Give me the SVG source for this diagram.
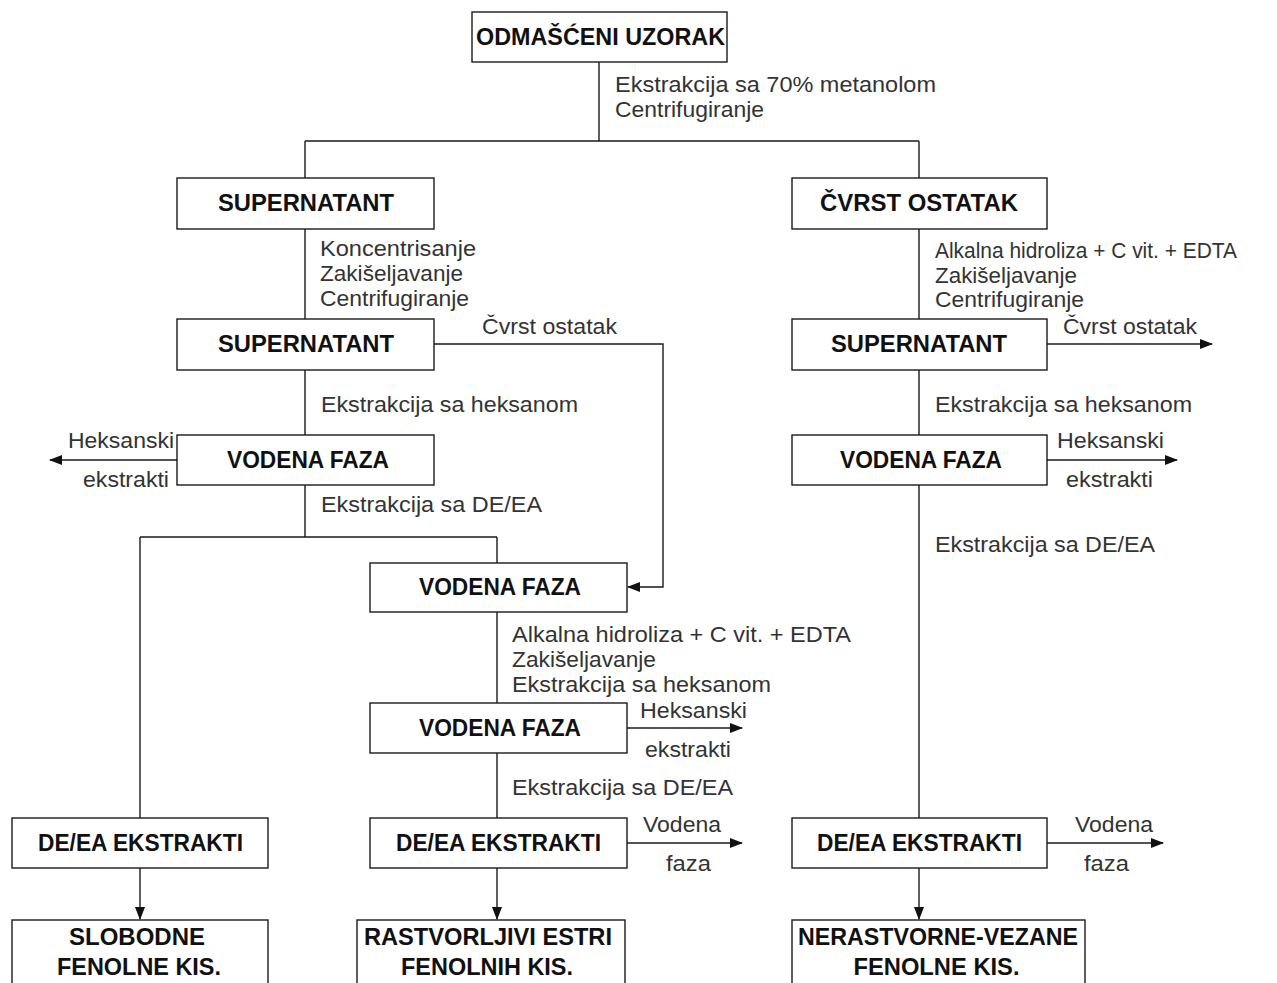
<svg xmlns="http://www.w3.org/2000/svg" width="1277" height="983" viewBox="0 0 1277 983">
  <style>
    .box { fill: #ffffff; stroke: #1a1a1a; stroke-width: 1.4; }
    .title { font-family: "Liberation Sans", Arial, sans-serif; font-weight: bold; font-size: 23px; fill: #111; text-anchor: middle; }
    .note { font-family: "Liberation Sans", Arial, sans-serif; font-size: 21.5px; fill: #333; }
    .wire { fill: none; stroke: #1a1a1a; stroke-width: 1.4; }
  </style>
  <defs>
    <marker id="arrow" markerWidth="13" markerHeight="10" refX="12" refY="5" orient="auto" markerUnits="userSpaceOnUse">
      <path d="M0,0 L13,5 L0,10 Z" fill="#111"/>
    </marker>
  </defs>
  <rect width="1277" height="983" fill="#ffffff"/>

  <!-- connectors -->
  <g id="connectors">
    <path class="wire" d="M599,62 V141 M305,141 H919 M305,141 V178 M919,141 V178"/>
    <path class="wire" d="M305,229 V319 M305,370 V435 M305,485 V537 M140,537 H497 M497,537 V563 M140,537 V818"/>
    <path class="wire" d="M434,344 H663 V587 H628" marker-end="url(#arrow)"/>
    <path class="wire" d="M177,460 H50" marker-end="url(#arrow)"/>
    <path class="wire" d="M497,612 V703 M497,753 V818"/>
    <path class="wire" d="M627,728 H742" marker-end="url(#arrow)"/>
    <path class="wire" d="M627,843 H742" marker-end="url(#arrow)"/>
    <path class="wire" d="M140,868 V919" marker-end="url(#arrow)"/>
    <path class="wire" d="M497,868 V919" marker-end="url(#arrow)"/>
    <path class="wire" d="M919,229 V319 M919,370 V435 M919,485 V818"/>
    <path class="wire" d="M1047,344 H1212" marker-end="url(#arrow)"/>
    <path class="wire" d="M1047,460 H1177" marker-end="url(#arrow)"/>
    <path class="wire" d="M1047,843 H1163" marker-end="url(#arrow)"/>
    <path class="wire" d="M919,868 V919" marker-end="url(#arrow)"/>
  </g>

  <!-- process step notes -->
  <g id="notes" lengthAdjust="spacingAndGlyphs">
    <text class="note" x="615" y="92" textLength="321" lengthAdjust="spacingAndGlyphs">Ekstrakcija sa 70% metanolom</text>
    <text class="note" x="615" y="117" textLength="149" lengthAdjust="spacingAndGlyphs">Centrifugiranje</text>
    <text class="note" x="320" y="256" textLength="156" lengthAdjust="spacingAndGlyphs">Koncentrisanje</text>
    <text class="note" x="320" y="281" textLength="143" lengthAdjust="spacingAndGlyphs">Zakišeljavanje</text>
    <text class="note" x="320" y="306" textLength="149" lengthAdjust="spacingAndGlyphs">Centrifugiranje</text>
    <text class="note" x="482" y="334" textLength="135" lengthAdjust="spacingAndGlyphs">Čvrst ostatak</text>
    <text class="note" x="321" y="412" textLength="257" lengthAdjust="spacingAndGlyphs">Ekstrakcija sa heksanom</text>
    <text class="note" x="174" y="448" text-anchor="end" textLength="106" lengthAdjust="spacingAndGlyphs">Heksanski</text>
    <text class="note" x="169" y="487" text-anchor="end" textLength="86" lengthAdjust="spacingAndGlyphs">ekstrakti</text>
    <text class="note" x="321" y="512" textLength="221" lengthAdjust="spacingAndGlyphs">Ekstrakcija sa DE/EA</text>
    <text class="note" x="512" y="642" textLength="339" lengthAdjust="spacingAndGlyphs">Alkalna hidroliza + C vit. + EDTA</text>
    <text class="note" x="512" y="667" textLength="144" lengthAdjust="spacingAndGlyphs">Zakišeljavanje</text>
    <text class="note" x="512" y="692" textLength="259" lengthAdjust="spacingAndGlyphs">Ekstrakcija sa heksanom</text>
    <text class="note" x="640" y="718" textLength="107" lengthAdjust="spacingAndGlyphs">Heksanski</text>
    <text class="note" x="645" y="757" textLength="86" lengthAdjust="spacingAndGlyphs">ekstrakti</text>
    <text class="note" x="512" y="795" textLength="221" lengthAdjust="spacingAndGlyphs">Ekstrakcija sa DE/EA</text>
    <text class="note" x="643" y="832" textLength="78" lengthAdjust="spacingAndGlyphs">Vodena</text>
    <text class="note" x="666" y="871" textLength="45" lengthAdjust="spacingAndGlyphs">faza</text>
    <text class="note" x="935" y="258" textLength="302" lengthAdjust="spacingAndGlyphs">Alkalna hidroliza + C vit. + EDTA</text>
    <text class="note" x="935" y="283" textLength="142" lengthAdjust="spacingAndGlyphs">Zakišeljavanje</text>
    <text class="note" x="935" y="307" textLength="149" lengthAdjust="spacingAndGlyphs">Centrifugiranje</text>
    <text class="note" x="1063" y="334" textLength="134" lengthAdjust="spacingAndGlyphs">Čvrst ostatak</text>
    <text class="note" x="935" y="412" textLength="257" lengthAdjust="spacingAndGlyphs">Ekstrakcija sa heksanom</text>
    <text class="note" x="1057" y="448" textLength="107" lengthAdjust="spacingAndGlyphs">Heksanski</text>
    <text class="note" x="1066" y="487" textLength="87" lengthAdjust="spacingAndGlyphs">ekstrakti</text>
    <text class="note" x="935" y="552" textLength="220" lengthAdjust="spacingAndGlyphs">Ekstrakcija sa DE/EA</text>
    <text class="note" x="1075" y="832" textLength="78" lengthAdjust="spacingAndGlyphs">Vodena</text>
    <text class="note" x="1084" y="871" textLength="45" lengthAdjust="spacingAndGlyphs">faza</text>
  </g>

  <!-- nodes -->
  <g id="n-uzorak"><rect class="box" x="472" y="12" width="255" height="50"/><text class="title" x="600.5" y="45" textLength="249" lengthAdjust="spacingAndGlyphs">ODMAŠĆENI UZORAK</text></g>
  <g id="n-supernatant-1"><rect class="box" x="177" y="178" width="257" height="51"/><text class="title" x="306" y="211" textLength="176" lengthAdjust="spacingAndGlyphs">SUPERNATANT</text></g>
  <g id="n-cvrst-ostatak"><rect class="box" x="792" y="178" width="255" height="51"/><text class="title" x="919" y="211" textLength="198" lengthAdjust="spacingAndGlyphs">ČVRST OSTATAK</text></g>
  <g id="n-supernatant-2"><rect class="box" x="177" y="319" width="257" height="51"/><text class="title" x="306" y="352" textLength="176" lengthAdjust="spacingAndGlyphs">SUPERNATANT</text></g>
  <g id="n-supernatant-3"><rect class="box" x="792" y="319" width="255" height="51"/><text class="title" x="919" y="352" textLength="176" lengthAdjust="spacingAndGlyphs">SUPERNATANT</text></g>
  <g id="n-vodena-l"><rect class="box" x="177" y="435" width="257" height="50"/><text class="title" x="308" y="468" textLength="162" lengthAdjust="spacingAndGlyphs">VODENA FAZA</text></g>
  <g id="n-vodena-r"><rect class="box" x="792" y="435" width="255" height="50"/><text class="title" x="921" y="468" textLength="162" lengthAdjust="spacingAndGlyphs">VODENA FAZA</text></g>
  <g id="n-vodena-m1"><rect class="box" x="370" y="563" width="257" height="49"/><text class="title" x="500" y="595" textLength="162" lengthAdjust="spacingAndGlyphs">VODENA FAZA</text></g>
  <g id="n-vodena-m2"><rect class="box" x="370" y="703" width="257" height="50"/><text class="title" x="500" y="736" textLength="162" lengthAdjust="spacingAndGlyphs">VODENA FAZA</text></g>
  <g id="n-deea-l"><rect class="box" x="12" y="818" width="256" height="50"/><text class="title" x="140.5" y="851" textLength="205" lengthAdjust="spacingAndGlyphs">DE/EA EKSTRAKTI</text></g>
  <g id="n-deea-m"><rect class="box" x="370" y="818" width="257" height="50"/><text class="title" x="498.5" y="851" textLength="205" lengthAdjust="spacingAndGlyphs">DE/EA EKSTRAKTI</text></g>
  <g id="n-deea-r"><rect class="box" x="792" y="818" width="255" height="50"/><text class="title" x="919.5" y="851" textLength="205" lengthAdjust="spacingAndGlyphs">DE/EA EKSTRAKTI</text></g>
  <g id="n-slobodne"><rect class="box" x="12" y="920" width="256" height="80"/><text class="title" x="137" y="945" textLength="136" lengthAdjust="spacingAndGlyphs">SLOBODNE</text><text class="title" x="139" y="975" textLength="164" lengthAdjust="spacingAndGlyphs">FENOLNE KIS.</text></g>
  <g id="n-rastvorljivi"><rect class="box" x="357" y="920" width="268" height="80"/><text class="title" x="488" y="945" textLength="248" lengthAdjust="spacingAndGlyphs">RASTVORLJIVI ESTRI</text><text class="title" x="487" y="975" textLength="172" lengthAdjust="spacingAndGlyphs">FENOLNIH KIS.</text></g>
  <g id="n-nerastvorne"><rect class="box" x="792" y="920" width="293" height="80"/><text class="title" x="938" y="945" textLength="280" lengthAdjust="spacingAndGlyphs">NERASTVORNE-VEZANE</text><text class="title" x="936.5" y="975" textLength="166" lengthAdjust="spacingAndGlyphs">FENOLNE KIS.</text></g>
</svg>
